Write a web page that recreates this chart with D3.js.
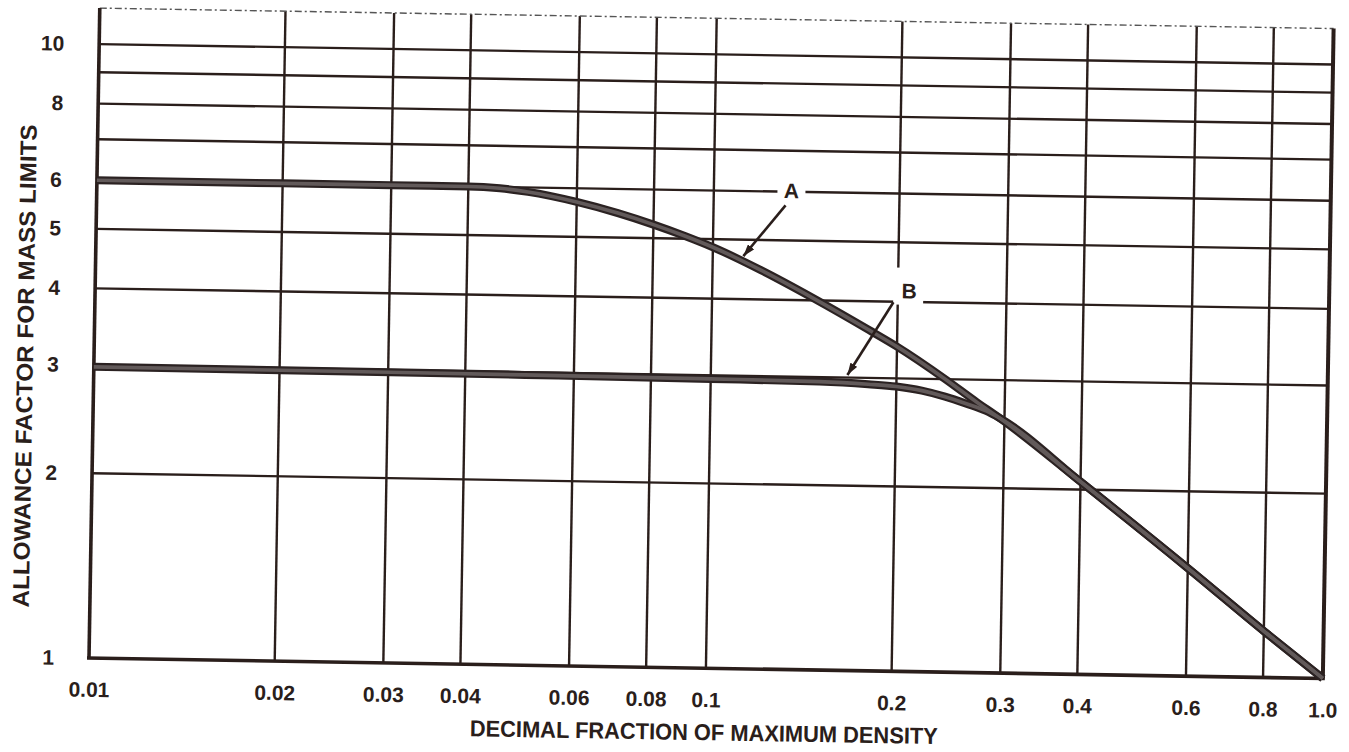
<!DOCTYPE html>
<html><head><meta charset="utf-8">
<script src="https://cdn.jsdelivr.net/npm/d3@7"></script>
<style>body{margin:0;background:#fff}svg{display:block}</style>
</head><body><svg id="c" width="1349" height="752"></svg>
<script>
// ---- data ----
const xTicks=[0.01,0.02,0.03,0.04,0.06,0.08,0.1,0.2,0.3,0.4,0.6,0.8,1.0];
const xTickLabels=["0.01","0.02","0.03","0.04","0.06","0.08","0.1","0.2","0.3","0.4","0.6","0.8","1.0"];
const xGrid=[0.02,0.03,0.04,0.06,0.08,0.1,0.2,0.3,0.4,0.6,0.8];
const yGrid=[2,3,4,5,6,7,8,9,10];
const yTickValues=[1,2,3,4,5,6,8,10];
const yTickLabels=["1","2","3","4","5","6","8","10"];
const curveAX=[0.01,0.02,0.03,0.04,0.045,0.05,0.06,0.07,0.08,0.09,0.1,0.12,0.146,0.18,0.2,0.24,0.27,0.295,0.4,0.6,0.8,1.0];
const curveAY=[6.0,6.0,6.0,6.0,5.97,5.9,5.7,5.48,5.26,5.05,4.85,4.46,4.03,3.59,3.38,3.0,2.76,2.6,2.06,1.5,1.19,1.0];
const curveBX=[0.01,0.05,0.1,0.15,0.18,0.2,0.22,0.24,0.26,0.28,0.295,0.4,0.6,0.8,1.0];
const curveBY=[2.98,2.97,2.96,2.95,2.93,2.91,2.87,2.81,2.74,2.67,2.6,2.06,1.5,1.19,1.0];
const labelA={text:"A",x:0.1336,y:6.03,fromX:0.1308,fromY:5.70,toX:0.1121,toY:4.70};
const labelB={text:"B",x:0.2087,y:4.17,fromX:0.1968,fromY:3.99,toX:0.1665,toY:3.03};
const xTitle="DECIMAL FRACTION OF MAXIMUM DENSITY";
const yTitle="ALLOWANCE FACTOR FOR MASS LIMITS";

// ---- layout ----
const L=89, B=658, W=1234, H=650, ROT=0.95;
const ink="#2a1e1b";
const font="'Liberation Sans', Arial, sans-serif";
const svg=d3.select("#c");
svg.append("rect").attr("width",1349).attr("height",752).attr("fill","#fff");
const g=svg.append("g").attr("transform",`rotate(${ROT},${L},${B})`);

const x=d3.scaleLog().domain([0.01,1]).range([L,L+W]);
const y=d3.scaleLog().domain([1,Math.pow(10,H/614)]).range([B,B-H]);

// gridlines
g.append("g").selectAll("line").data(xGrid).join("line")
  .attr("x1",d=>x(d)).attr("x2",d=>x(d)).attr("y1",B-H).attr("y2",B)
  .attr("stroke",ink).attr("stroke-width",2.4);
g.append("g").selectAll("line").data(yGrid).join("line")
  .attr("x1",L).attr("x2",L+W).attr("y1",d=>y(d)).attr("y2",d=>y(d))
  .attr("stroke",ink).attr("stroke-width",2.4);

// frame
g.append("line").attr("x1",L).attr("x2",L+W).attr("y1",y.range()[1]).attr("y2",y.range()[1])
  .attr("stroke","#555").attr("stroke-width",1.4).attr("stroke-dasharray","7,3,2,3");
g.append("line").attr("x1",L).attr("x2",L).attr("y1",B-H).attr("y2",B).attr("stroke",ink).attr("stroke-width",3.6);
g.append("line").attr("x1",L+W).attr("x2",L+W).attr("y1",B-H).attr("y2",B).attr("stroke",ink).attr("stroke-width",4);
g.append("line").attr("x1",L-2).attr("x2",L+W+2).attr("y1",B).attr("y2",B).attr("stroke",ink).attr("stroke-width",3.6);

// label gaps
g.append("rect").attr("x",x(labelA.x)-14).attr("y",y(labelA.y)-11).attr("width",28).attr("height",22).attr("fill","#fff");
g.append("rect").attr("x",x(labelB.x)-16).attr("y",y(labelB.y)-23).attr("width",30).attr("height",37).attr("fill","#fff");

// curves
const line=d3.line().x(d=>x(d[0])).y(d=>y(d[1])).curve(d3.curveMonotoneX);
const A=curveAX.map((v,i)=>[v,curveAY[i]]);
const Bd=curveBX.map((v,i)=>[v,curveBY[i]]);
[A,Bd].forEach(d=>{
  g.append("path").attr("d",line(d)).attr("fill","none").attr("stroke","#2b2222").attr("stroke-width",8);
});
[A,Bd].forEach(d=>{
  g.append("path").attr("d",line(d)).attr("fill","none").attr("stroke","#625a5a").attr("stroke-width",3.6);
});

// arrows
const defs=svg.append("defs");
defs.append("marker").attr("id","ah").attr("viewBox","0 0 12 8").attr("refX",12).attr("refY",4)
  .attr("markerWidth",12).attr("markerHeight",8).attr("markerUnits","userSpaceOnUse").attr("orient","auto")
  .append("path").attr("d","M0,0L12,4L0,8Z").attr("fill",ink);
[labelA,labelB].forEach(l=>{
  g.append("line").attr("x1",x(l.fromX)).attr("y1",y(l.fromY)).attr("x2",x(l.toX)).attr("y2",y(l.toY))
   .attr("stroke",ink).attr("stroke-width",2.6).attr("marker-end","url(#ah)");
  g.append("text").attr("x",x(l.x)).attr("y",y(l.y)).attr("dy","0.36em").attr("text-anchor","middle")
   .attr("font-family",font).attr("font-weight","bold").attr("font-size",21).attr("fill",ink).text(l.text);
});

// axes labels
const xa=g.append("g").attr("transform",`translate(0,${B})`)
  .call(d3.axisBottom(x).tickValues(xTicks).tickFormat((d,i)=>xTickLabels[i]).tickSize(0).tickPadding(24));
const ya=g.append("g").attr("transform",`translate(${L},0)`)
  .call(d3.axisLeft(y).tickValues(yTickValues).tickFormat((d,i)=>yTickLabels[i]).tickSize(0).tickPadding(35));
[xa,ya].forEach(a=>{
  a.select(".domain").remove();
  a.selectAll("text").attr("font-family",font).attr("font-weight","bold").attr("font-size",21).attr("fill",ink);
});

// titles
g.append("text").attr("x",705).attr("y",730).attr("text-anchor","middle")
  .attr("font-family",font).attr("font-weight","bold").attr("font-size",23).attr("fill",ink)
  .attr("textLength",468).attr("lengthAdjust","spacingAndGlyphs").text(xTitle);
g.append("text").attr("transform","translate(28,367) rotate(-90)").attr("text-anchor","middle")
  .attr("font-family",font).attr("font-weight","bold").attr("font-size",23).attr("fill",ink)
  .attr("textLength",483).attr("lengthAdjust","spacingAndGlyphs").text(yTitle);
</script></body></html>
